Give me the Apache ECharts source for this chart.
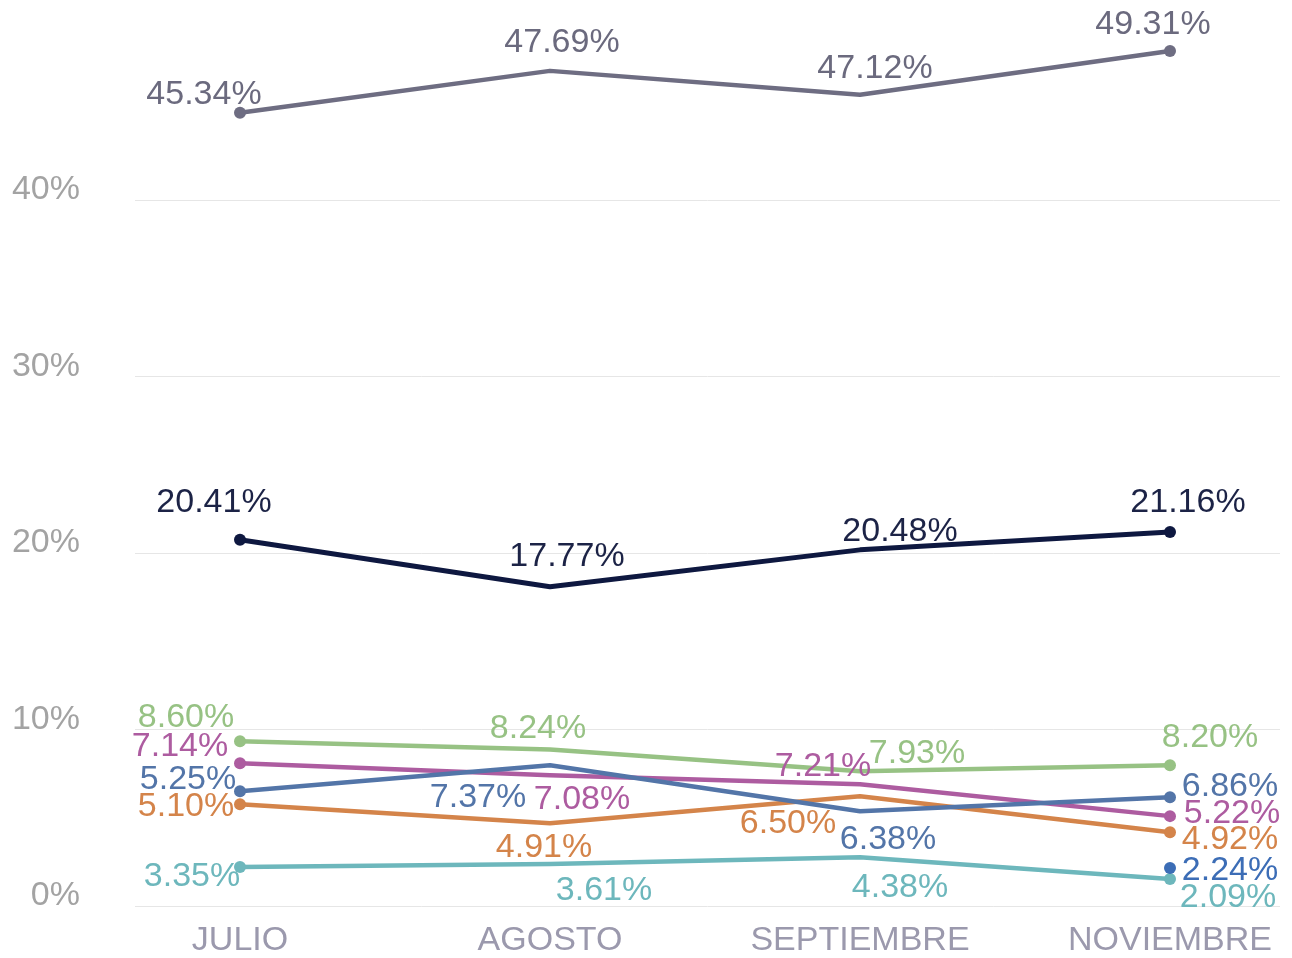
<!DOCTYPE html>
<html lang="es">
<head>
<meta charset="utf-8">
<title>Evolución mensual</title>
<script src="https://cdn.jsdelivr.net/npm/echarts@6/dist/echarts.min.js"></script>
<style>
    html, body { margin: 0; padding: 0; background: #ffffff; }
    #chart { width: 1292px; height: 958px; }
</style>
</head>
<body>
<div id="chart"></div>
<script>
// ==================== Datos ====================

const months = ['JULIO', 'AGOSTO', 'SEPTIEMBRE', 'NOVIEMBRE'];

// posición de cada punto tal como está dibujado (%)
const greyValues    = [44.93, 47.31, 45.95, 48.44];
const navyValues    = [20.68, 18.02, 20.11, 21.13];
const greenValues   = [9.24, 8.78, 7.54, 7.88];
const magentaValues = [7.99, 7.31, 6.80, 4.99];
const blueValues    = [6.40, 7.88, 5.27, 6.06];
const orangeValues  = [5.67, 4.59, 6.12, 4.08];
const tealValues    = [2.10, 2.27, 2.66, 1.42];
const dotValues     = [null, null, null, 2.04];

// etiquetas impresas junto a cada punto
const greyLabels    = ['45.34%', '47.69%', '47.12%', '49.31%'];
const navyLabels    = ['20.41%', '17.77%', '20.48%', '21.16%'];
const greenLabels   = ['8.60%', '8.24%', '7.93%', '8.20%'];
const magentaLabels = ['7.14%', '7.08%', '7.21%', '5.22%'];
const blueLabels    = ['5.25%', '7.37%', '6.38%', '6.86%'];
const orangeLabels  = ['5.10%', '4.91%', '6.50%', '4.92%'];
const tealLabels    = ['3.35%', '3.61%', '4.38%', '2.09%'];
const dotLabels     = ['', '', '', '2.24%'];

// ==================== Estilo / colocación ====================

const FONT = '"Liberation Sans", Arial, sans-serif';

const labelOffsets = {
    grey:    [[-36, -21], [12, -31], [15, -29], [-17, -29]],
    navy:    [[-26, -40], [17, -33], [40, -21], [18, -32]],
    green:   [[-54, -27], [-12, -24], [57, -21], [40, -31]],
    magenta: [[-60, -20], [32, 21], [-37, -21], [62, -6]],
    blue:    [[-52, -15], [-72, 29], [28, 25], [60, -14]],
    orange:  [[-54, -1], [-6, 21], [-72, 24], [60, 4]],
    teal:    [[-48, 7], [54, 24], [40, 27], [58, 16]],
    dot:     [[0, 0], [0, 0], [0, 0], [60, 0]],
};

function makeSeries(name, values, labels, offsets, color, textColor, width) {
    return {
        name,
        type: 'line',
        xAxisIndex: 1,
        yAxisIndex: 1,
        data: values.map((v, i) => ({
            value: v,
            label: { offset: [offsets[i][0], offsets[i][1] + 3] },
        })),
        symbol: 'circle',
        // solo los extremos llevan punto
        symbolSize: (val, params) => (params.dataIndex === 0 || params.dataIndex === 3) ? 12 : 0,
        showAllSymbol: true,
        lineStyle: { color, width: width || 4.5, cap: 'round', join: 'round' },
        itemStyle: { color },
        label: {
            show: true,
            position: 'inside',
            color: textColor || color,
            fontFamily: FONT,
            fontSize: 34,
            formatter: (params) => labels[params.dataIndex],
        },
        emphasis: { disabled: true },
        silent: true,
    };
}

const chart = echarts.init(document.getElementById('chart'), null, { renderer: 'canvas' });

chart.setOption({
    backgroundColor: '#ffffff',
    animation: false,
    grid: [
        // rejilla de referencia (etiquetas del eje Y y líneas)
        { left: 135, right: 12, top: 200, bottom: 52 },
        // rejilla de datos: un punto por mes, de Julio a Noviembre
        { left: 240, right: 122, top: 23.5, bottom: 52 },
    ],
    xAxis: [
        { type: 'value', gridIndex: 0, show: false },
        {
            type: 'category',
            gridIndex: 1,
            data: months,
            boundaryGap: false,
            axisLine: { show: false },
            axisTick: { show: false },
            axisLabel: { color: '#9b99ad', fontFamily: FONT, fontSize: 34, margin: 20 },
        },
    ],
    yAxis: [
        {
            type: 'value',
            gridIndex: 0,
            min: 0,
            max: 40,
            interval: 10,
            axisLine: { show: false },
            axisTick: { show: false },
            splitLine: { lineStyle: { color: '#e6e6e6', width: 1 } },
            axisLabel: {
                formatter: '{value}%',
                color: '#a3a3a3',
                fontFamily: FONT,
                fontSize: 34,
                margin: 55,
                verticalAlign: 'bottom',
                lineHeight: 20,
            },
        },
        { type: 'value', gridIndex: 1, min: 0, max: 50, show: false },
    ],
    series: [
        makeSeries('teal', tealValues, tealLabels, labelOffsets.teal, '#6db7bc'),
        makeSeries('orange', orangeValues, orangeLabels, labelOffsets.orange, '#d4844a'),
        makeSeries('magenta', magentaValues, magentaLabels, labelOffsets.magenta, '#ad5ca0'),
        makeSeries('blue', blueValues, blueLabels, labelOffsets.blue, '#5375a8'),
        makeSeries('green', greenValues, greenLabels, labelOffsets.green, '#97c284'),
        makeSeries('navy', navyValues, navyLabels, labelOffsets.navy, '#0e1840', '#1c2346', 5),
        makeSeries('grey', greyValues, greyLabels, labelOffsets.grey, '#6e6d82', '#6b6a7e'),
        makeSeries('dot', dotValues, dotLabels, labelOffsets.dot, '#3c6db6'),
    ],
});
</script>
</body>
</html>
